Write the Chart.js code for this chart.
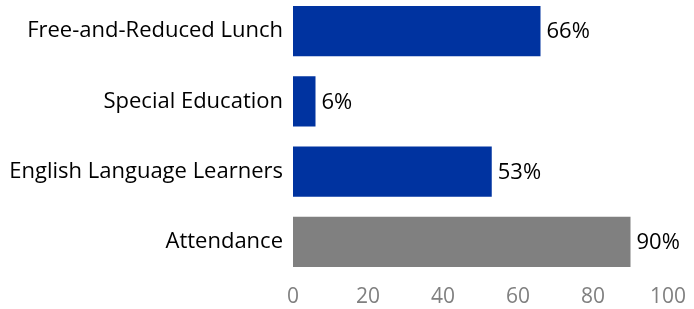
<!DOCTYPE html>
<html>
<head>
<meta charset="utf-8">
<script src="https://cdn.jsdelivr.net/npm/chart.js@4/dist/chart.umd.min.js"></script>
<style>
  html, body { margin: 0; padding: 0; background: #fff; overflow: hidden; }
  #wrap { position: absolute; left: 0; top: -4px; width: 694px; height: 313px; }
</style>
</head>
<body>
<div id="wrap"><canvas id="c" width="694" height="313"></canvas></div>
<script>
const categories = ["Free-and-Reduced Lunch", "Special Education", "English Language Learners", "Attendance"];
const values = [66, 6, 53, 90];
const barColors = ["#0033a0", "#0033a0", "#0033a0", "#808080"];
const xTicks = [0, 20, 40, 60, 80, 100];

const FONT = "'Open Sans', Lato, sans-serif";

const valueLabels = {
  id: "valueLabels",
  afterDatasetsDraw(chart) {
    const ctx = chart.ctx;
    const meta = chart.getDatasetMeta(0);
    ctx.save();
    ctx.font = "22px " + FONT;
    ctx.fillStyle = "#000";
    ctx.textAlign = "left";
    ctx.textBaseline = "middle";
    meta.data.forEach((bar, i) => {
      ctx.fillText(values[i] + "%", bar.x + 6, bar.y + 1);
    });
    ctx.restore();
  }
};

new Chart(document.getElementById("c"), {
  type: "bar",
  data: {
    labels: categories,
    datasets: [{
      data: values,
      backgroundColor: barColors,
      borderWidth: 0,
      barPercentage: 0.712,
      categoryPercentage: 1.0
    }]
  },
  options: {
    indexAxis: "y",
    responsive: false,
    animation: false,
    devicePixelRatio: 1,
    layout: { padding: { left: 0, right: 26, top: 0, bottom: 0 } },
    plugins: { legend: { display: false }, tooltip: { enabled: false } },
    scales: {
      x: {
        min: 0, max: 100,
        afterBuildTicks(scale) { scale.ticks = xTicks.map(v => ({ value: v })); },
        afterFit(scale) { scale.height = 32; },
        grid: { display: false, drawTicks: false },
        border: { display: false },
        ticks: { color: "#808080", font: { family: FONT, size: 21 }, padding: 7, maxRotation: 0 }
      },
      y: {
        afterFit(scale) { scale.width = 293; scale.paddingTop = 0; scale.paddingBottom = 0; },
        grid: { display: false, drawTicks: false },
        border: { display: false },
        ticks: { color: "#000", font: { family: FONT, size: 22 }, padding: 10 }
      }
    }
  },
  plugins: [valueLabels]
});
</script>
</body>
</html>
